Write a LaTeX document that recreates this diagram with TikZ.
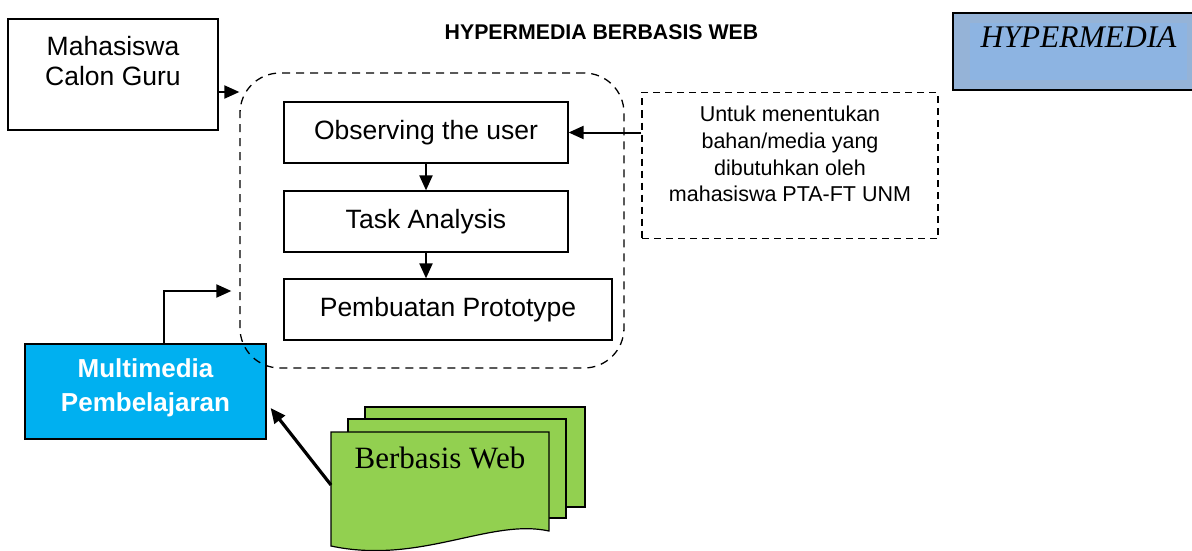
\documentclass[tikz,border=0pt]{standalone}
\usepackage{fontspec}
\setmainfont{Liberation Sans}
\newfontfamily\timesfont{Liberation Serif}
\usetikzlibrary{arrows.meta}
\definecolor{hypout}{HTML}{95B3D7}
\definecolor{hypin}{HTML}{8DB4E2}
\definecolor{mmblue}{HTML}{00B0F0}
\definecolor{webgreen}{HTML}{92D050}

\begin{document}
\begin{tikzpicture}[
   x=1pt, y=-1pt,
   box/.style={
       draw, line width=1.2pt, inner sep=0pt, align=center,
       font={\fontsize{26.5pt}{30pt}\selectfont}
     },
   flow/.style={box, minimum height=61pt},
   group/.style={
       draw, line width=1.3pt, dash pattern=on 8pt off 6pt,
       rounded corners=40pt, minimum width=384pt, minimum height=295pt
     },
   arr/.style={-{Triangle[length=15pt,width=13pt]}, line width=2pt},
   page/.style={fill=webgreen, draw, line width=1.2pt}
  ]
  \useasboundingbox (0,0) rectangle (1192,551);
  \node[font={\bfseries\fontsize{21.3pt}{24pt}\selectfont}] (ttl) at (601.5,32.5) {HYPERMEDIA BERBASIS WEB};
  \node[box, minimum width=210pt, minimum height=111pt, text depth=28pt] (mhs) at (113,74.5) {Mahasiswa\\Calon Guru};
  \node[box, fill=hypout, minimum width=251pt, minimum height=77pt, text depth=27.8pt,
     font={\timesfont\itshape\fontsize{31.5pt}{36pt}\selectfont},
     path picture={\fill[hypin] ([shift={(17,10)}]path picture bounding box.north west)
        rectangle ([shift={(-17,-10)}]path picture bounding box.south east);}
  ] (hyp) at (1078.5,51.5) {HYPERMEDIA};
  \node[box, fill=mmblue, text=white, minimum width=241pt, minimum height=95pt, text depth=12pt,
     font={\bfseries\fontsize{26pt}{34pt}\selectfont}] (mm) at (145.5,391.5) {Multimedia\\Pembelajaran};
  \node[group] (grp) at (432,220.5) {};
  \node[flow, minimum width=284pt] (obs) at (426,132.5) {Observing the user};
  \node[flow, minimum width=284pt] (task) at (426,221.5) {Task Analysis};
  \node[flow, minimum width=328pt] (proto) at (448,309.5) {Pembuatan Prototype};
  \node[box, dash pattern=on 7pt off 5pt, minimum width=296pt, minimum height=146pt, text depth=23pt,
     font={\fontsize{21.5pt}{26.7pt}\selectfont}] (note) at (790,165.5)
     {Untuk menentukan\\bahan/media yang\\dibutuhkan oleh\\mahasiswa PTA-FT UNM};
  % stacked pages
  \filldraw[page] (365,407) rectangle (585,507);
  \filldraw[page] (348,419) rectangle (566,518);
  \filldraw[page] (331,432) -- (549,432) -- (549,531)
     .. controls (490,518) and (420,565) .. (331,546) -- cycle;
  \node[font={\timesfont\fontsize{31pt}{36pt}\selectfont}] (web) at (440,457.5) {Berbasis Web};
  \coordinate (webout) at (331,485);
  \coordinate (mhsout) at ([yshift=-17.5pt]mhs.east);
  \coordinate (mmout) at ([xshift=18.5pt]mm.north);
  \coordinate (mmin) at ([xshift=-8pt,yshift=-70.5pt]grp.west);
  \coordinate (mmweb) at ([xshift=4pt,yshift=-16.5pt]mm.east);
  \draw[arr] (mhsout) -- (mhsout -| grp.west);
  \draw[arr] (mmout) |- (mmin);
  \draw[arr] (note.west |- obs.east) -- (obs.east);
  \draw[arr] (obs) -- (task);
  \draw[arr] (task.south) -- (task.south |- proto.north);
  \draw[arr, line width=3.2pt] (webout) -- (mmweb);
\end{tikzpicture}
\end{document}
